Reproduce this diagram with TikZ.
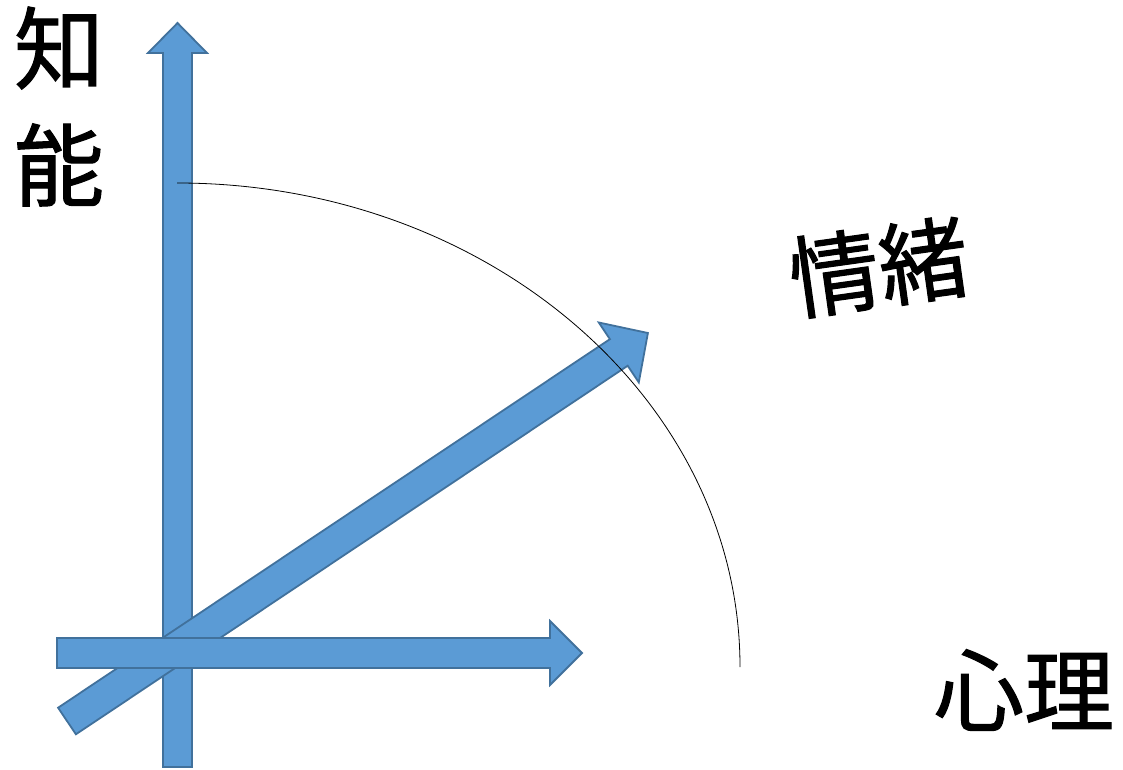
\documentclass[tikz,border=0pt]{standalone}
\usepackage{fontspec}
\newfontfamily\cjk[FakeBold=1.2]{Noto Sans CJK JP}
\definecolor{arrowfill}{HTML}{5B9BD5}
\definecolor{arrowline}{HTML}{41719C}
\begin{document}
\begin{tikzpicture}[x=1pt,y=1pt,
  fatarrow/.style={fill=arrowfill,draw=arrowline,line width=1.8pt,line join=miter},
  label/.style={font=\cjk\fontsize{90}{90}\selectfont,inner sep=0pt}]
\useasboundingbox (0,0) rectangle (1123,769);
% vertical arrow
\filldraw[fatarrow] (163,2) -- (192,2) -- (192,716) -- (207,716) -- (177.5,746)
  -- (148,716) -- (163,716) -- cycle;
% diagonal arrow
\begin{scope}[shift={(67,48)},rotate=33.74]
\filldraw[fatarrow] (0,-16) -- (663.6,-16) -- (663.6,-36) -- (698.6,0)
  -- (663.6,36) -- (663.6,16) -- (0,16) -- cycle;
\end{scope}
% horizontal arrow
\filldraw[fatarrow] (57,101) -- (550,101) -- (550,84) -- (582,116) -- (550,148)
  -- (550,131) -- (57,131) -- cycle;
% arc
\coordinate (arcstart) at (177,586);
\draw[black,line width=0.8pt] (arcstart) arc[start angle=90,end angle=0,x radius=563,y radius=484];
% labels
\node[label] (chi) at (59,721) {知};
\node[label] (nou) at (59,604) {能};
\node[label,rotate=8] (jou) at (879,502) {情緒};
\node[label] (shin) at (1024,79) {心理};
\end{tikzpicture}
\end{document}
